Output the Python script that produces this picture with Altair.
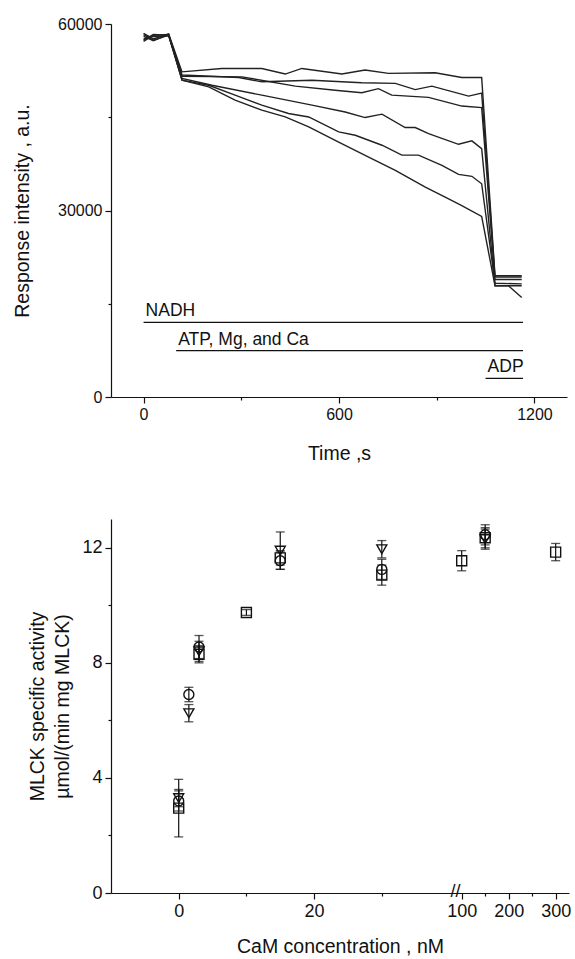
import altair as alt
import pandas as pd

FONT = "Liberation Sans"

# ---------------- top panel: response traces ----------------
start_t = [0, 30, 77]

a_time = start_t + [118, 240, 363, 435, 486, 609, 680, 752, 895, 977, 1038, 1079, 1161]
a_val = [58500, 57600, 58400, 52300, 52850, 52850, 51950, 52850, 51950, 52600, 52050, 52150, 51400, 51400, 19500, 19500]

b_time = start_t + [118, 292, 363, 517, 670, 773, 834, 885, 998, 1038, 1079, 1161]
b_val = [57200, 58200, 58300, 51800, 51400, 50700, 50950, 50550, 50450, 49450, 50000, 48400, 48900, 19300, 19300]

c_time = start_t + [118, 302, 466, 588, 670, 721, 762, 875, 977, 1038, 1079, 1161]
c_val = [58300, 57400, 58200, 51600, 51500, 50000, 49350, 48950, 49600, 48550, 48200, 46800, 46550, 18900, 18900]

d_time = start_t + [118, 210, 363, 517, 619, 680, 732, 803, 834, 875, 967, 1008, 1038, 1079, 1161]
d_val = [57600, 58000, 58100, 51250, 50150, 48550, 46950, 45850, 44950, 45500, 43350, 43350, 42350, 40650, 41200, 39950, 17900, 17900]

e_time = start_t + [118, 200, 281, 363, 445, 507, 599, 650, 732, 793, 844, 916, 967, 1008, 1038, 1079, 1161]
e_val = [58000, 57300, 58300, 50950, 50150, 48550, 46950, 45600, 45050, 42650, 42100, 40500, 38900, 38900, 37250, 35800, 35500, 34300, 18300, 18200]

f_time = start_t + [118, 200, 281, 363, 435, 507, 599, 691, 773, 865, 926, 977, 1038, 1079, 1120, 1161]
f_val = [57400, 58300, 58200, 50950, 49900, 47750, 46150, 45050, 43450, 41000, 38600, 36450, 33750, 32150, 30800, 29050, 17900, 17900, 16000]

curves = {"a": (a_time, a_val), "b": (b_time, b_val), "c": (c_time, c_val),
          "d": (d_time, d_val), "e": (e_time, e_val), "f": (f_time, f_val)}

ann_labels = ["NADH", "ATP, Mg, and Ca", "ADP"]
ann_start = [0, 100, 1050]
ann_end = [1165, 1165, 1165]
ann_level = [12000, 7450, 3000]

# ---------------- bottom panel: MLCK activity ----------------
sq_conc = [0, 3, 10, 15, 30, 100, 150, 300]
sq_mean = [2.95, 8.3, 9.75, 11.65, 11.05, 11.55, 12.35, 11.85]
sq_err = [1.0, 0.3, 0.1, 0.25, 0.35, 0.35, 0.35, 0.3]

ci_conc = [0, 1.5, 3, 15, 30, 150]
ci_mean = [3.2, 6.9, 8.55, 11.55, 11.25, 12.45]
ci_err = [0.35, 0.25, 0.4, 0.3, 0.35, 0.35]

tr_conc = [0, 1.5, 3, 15, 30, 150]
tr_mean = [3.3, 6.25, 8.4, 11.9, 11.95, 12.3]
tr_err = [0.3, 0.3, 0.35, 0.65, 0.3, 0.35]

x_major = [0, 20, 100, 200, 300]
x_minor = [10, 30, 150, 250]
break_conc = [70]

# broken axis: linear part up to 40 nM, compressed part from 100 nM
LIN_MAX = 40.0
SEG2_START = 41.8
SEG2_SCALE = 0.0694


def axis_pos(c):
    if c <= LIN_MAX:
        return c
    if c < 100:
        return LIN_MAX + 0.9
    return SEG2_START + (c - 100) * SEG2_SCALE


rows = []
for name, (tt, vv) in curves.items():
    for t, v in zip(tt, vv):
        rows.append({"curve": name, "t": t, "v": v})
lines_df = pd.DataFrame(rows)

ann_df = pd.DataFrame({"label": ann_labels, "t0": ann_start, "t1": ann_end, "lvl": ann_level})

prow = []
for series, cc, mm, ee in [("square", sq_conc, sq_mean, sq_err),
                           ("circle", ci_conc, ci_mean, ci_err),
                           ("triangle", tr_conc, tr_mean, tr_err)]:
    for c, m, e in zip(cc, mm, ee):
        prow.append({"series": series, "conc": c, "pos": axis_pos(c), "mean": m,
                     "lo": m - e, "hi": m + e})
pts_df = pd.DataFrame(prow)

brk_df = pd.DataFrame({"pos": [axis_pos(c) for c in break_conc], "y": [0]})

# ---------------- top chart ----------------
tx = alt.Scale(domain=[-100, 1300], nice=False, zero=False)
ty = alt.Scale(domain=[0, 60000], nice=False)

top_x_axis = alt.Axis(
    values=[0, 300, 600, 900, 1200],
    labelExpr="datum.value % 600 == 0 ? format(datum.value, 'd') : ''",
    tickSize={"condition": {"test": "datum.value % 600 == 0", "value": 6}, "value": 3},
    title="Time ,s", titlePadding=22, titleFontSize=19.5, labelFontSize=16,
)
top_y_axis = alt.Axis(
    values=[0, 15000, 30000, 45000, 60000],
    labelExpr="datum.value % 30000 == 0 ? format(datum.value, 'd') : ''",
    tickSize={"condition": {"test": "datum.value % 30000 == 0", "value": 6}, "value": 3},
    title="Response intensity , a.u.", titlePadding=25, titleFontSize=19.5, labelFontSize=16,
)

lines = alt.Chart(lines_df).mark_line(color="#222", strokeWidth=1.4).encode(
    x=alt.X("t:Q", scale=tx, axis=top_x_axis),
    y=alt.Y("v:Q", scale=ty, axis=top_y_axis),
    detail="curve:N",
    order="t:Q",
)
ann_rules = alt.Chart(ann_df).mark_rule(color="#111", strokeWidth=1.2).encode(
    x=alt.X("t0:Q", scale=tx), x2="t1:Q", y=alt.Y("lvl:Q", scale=ty)
)
ann_text = alt.Chart(ann_df).mark_text(
    align="left", baseline="alphabetic", dx=2, dy=-6, fontSize=17.5, font=FONT, color="#111"
).encode(x=alt.X("t0:Q", scale=tx), y=alt.Y("lvl:Q", scale=ty), text="label:N")

top = alt.layer(lines, ann_rules, ann_text).properties(width=456, height=373)

# ---------------- bottom chart ----------------
bx = alt.Scale(domain=[-10, 57.65], nice=False, zero=False)
by = alt.Scale(domain=[0, 13], nice=False)

tick_pos = [axis_pos(c) for c in x_major + x_minor]
major_pos = [axis_pos(c) for c in x_major]
label_expr = ""
for p, c in zip(major_pos, x_major):
    label_expr += f"abs(datum.value - {p:.4f}) < 0.01 ? '{c}' : "
label_expr += "''"
major_test = " || ".join(f"abs(datum.value - {p:.4f}) < 0.01" for p in major_pos)

bot_x_axis = alt.Axis(
    values=tick_pos, labelExpr=label_expr,
    tickSize={"condition": {"test": major_test, "value": 6}, "value": 3},
    title="CaM concentration , nM", titlePadding=17, titleFontSize=19.5, labelFontSize=18,
)
bot_y_axis = alt.Axis(
    values=[0, 2, 4, 6, 8, 10, 12],
    labelExpr="datum.value % 4 == 0 ? format(datum.value, 'd') : ''",
    tickSize={"condition": {"test": "datum.value % 4 == 0", "value": 6}, "value": 3},
    title=["MLCK specific activity", "µmol/(min mg MLCK)"], titlePadding=9,
    titleFontSize=19.5, titleLineHeight=25, labelFontSize=18,
)

base = alt.Chart(pts_df)
err_rule = base.mark_rule(color="#111", strokeWidth=1.2).encode(
    x=alt.X("pos:Q", scale=bx, axis=bot_x_axis),
    y=alt.Y("lo:Q", scale=by, axis=bot_y_axis), y2="hi:Q",
)
cap_lo = base.mark_point(shape="stroke", size=81, color="#111", strokeWidth=1.3).encode(
    x=alt.X("pos:Q", scale=bx), y=alt.Y("lo:Q", scale=by)
)
cap_hi = base.mark_point(shape="stroke", size=81, color="#111", strokeWidth=1.3).encode(
    x=alt.X("pos:Q", scale=bx), y=alt.Y("hi:Q", scale=by)
)
markers = base.mark_point(filled=False, color="#111", strokeWidth=1.4, opacity=1).encode(
    x=alt.X("pos:Q", scale=bx),
    y=alt.Y("mean:Q", scale=by),
    shape=alt.Shape("series:N", scale=alt.Scale(domain=["square", "circle", "triangle"],
                                                range=["square", "circle", "triangle-down"]), legend=None),
    size=alt.Size("series:N", scale=alt.Scale(domain=["square", "circle", "triangle"],
                                              range=[100, 100, 130]), legend=None),
)
brk = alt.Chart(brk_df).mark_text(text="//", fontSize=18, font=FONT, color="#111",
                                  baseline="middle", align="center", dy=-1).encode(
    x=alt.X("pos:Q", scale=bx), y=alt.Y("y:Q", scale=by)
)

bottom = alt.layer(err_rule, cap_lo, cap_hi, markers, brk).properties(width=458, height=374)

chart = alt.vconcat(top, bottom, spacing=56).properties(
    padding={"left": 12, "top": 16, "right": 0, "bottom": 0}
).configure(background="white").configure_view(stroke=None).configure_axis(
    grid=False, domainColor="#111", domainWidth=1.2, tickColor="#111", tickWidth=1.2,
    labelFont=FONT, titleFont=FONT, labelColor="#111",
    titleColor="#111", titleFontWeight="normal", labelPadding=3,
)

chart.save("out.html", embed_options={"renderer": "svg", "actions": False})
